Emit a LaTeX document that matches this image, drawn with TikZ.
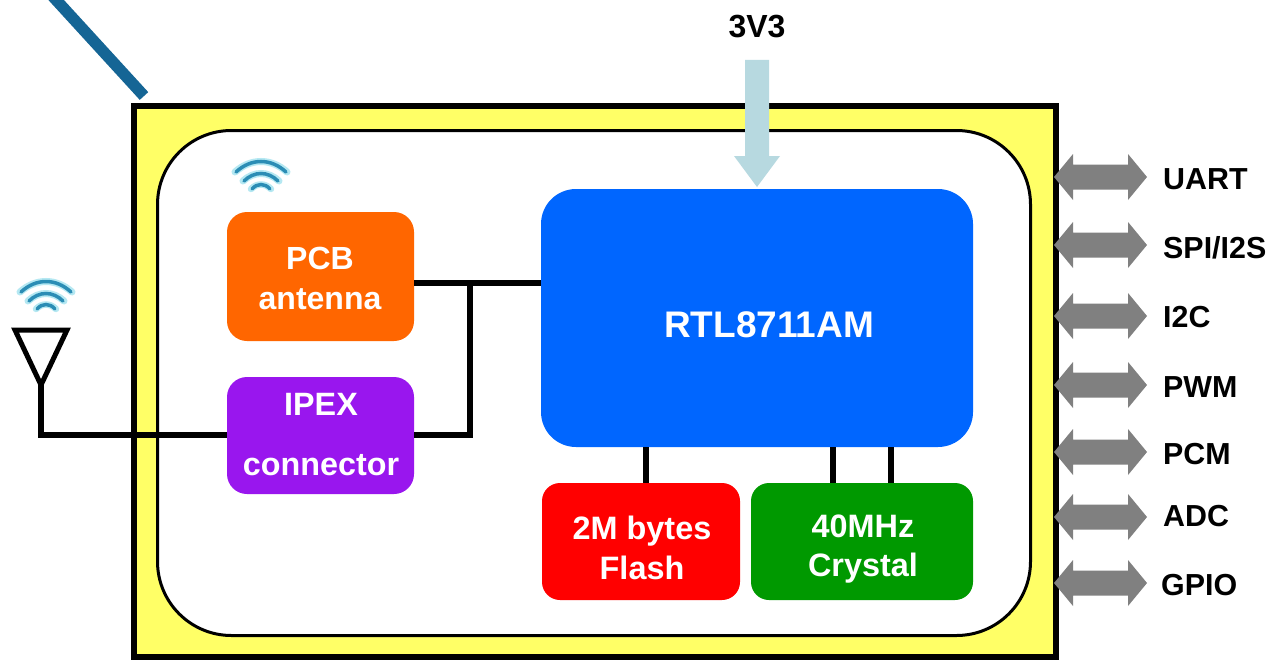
\documentclass[tikz,border=0pt]{standalone}
\usepackage{fontspec}
\setmainfont{Liberation Sans}
\definecolor{frameyellow}{HTML}{FFFF66}
\definecolor{chipblue}{HTML}{0066FF}
\definecolor{pcborange}{HTML}{FF6600}
\definecolor{ipexpurple}{HTML}{9916EE}
\definecolor{flashred}{HTML}{FF0000}
\definecolor{xtalgreen}{HTML}{009900}
\definecolor{busgrey}{HTML}{808080}
\definecolor{powerblue}{HTML}{B7D9E0}
\definecolor{slantblue}{HTML}{156595}
\definecolor{wifidark}{HTML}{2B8DB5}
\definecolor{wifiglow}{HTML}{B5E8F2}
\tikzset{
  block/.style={rounded corners=#1, inner sep=0pt, draw=none},
  block/.default=20pt,
  wlabel/.style={text=white, font=\bfseries\fontsize{32.4}{40}\selectfont, align=center, inner sep=0pt},
  blabel/.style={text=black, font=\bfseries\fontsize{30.4}{36}\selectfont, inner sep=0pt},
  wire/.style={line width=5.5pt, draw=black, line join=miter, line cap=butt},
  pics/wifi/.style={code={
    \draw[wifiglow,line width=7pt,line cap=round] (-26,11) .. controls (-10,-3) and (10,-3) .. (26,11);
    \draw[wifiglow,line width=7pt,line cap=round] (-18,20) .. controls (-7,10) and (7,10) .. (18,20);
    \draw[wifiglow,line width=6.5pt,line cap=round] (-10,28) .. controls (-4,22) and (4,22) .. (10,28);
    \draw[wifidark,line width=3.5pt,line cap=round] (-25,11) .. controls (-10,-3) and (10,-3) .. (25,11);
    \draw[wifidark,line width=3.5pt,line cap=round] (-17,20) .. controls (-7,10) and (7,10) .. (17,20);
    \draw[wifidark,line width=3.5pt,line cap=round] (-9,28) .. controls (-4,22) and (4,22) .. (9,28);
  }},
  pics/busarrow/.style={code={
    \fill[busgrey] (1054,0) -- (1073,-23) -- (1073,-12.5) -- (1128,-12.5) -- (1128,-23) -- (1147,0)
      -- (1128,23) -- (1128,12.5) -- (1073,12.5) -- (1073,23) -- cycle;
  }}
}
\begin{document}
\begin{tikzpicture}[x=1pt,y=-1pt]
\useasboundingbox (0,0) rectangle (1273,661);
\clip (0,0) rectangle (1273,661);
\fill[white] (0,0) rectangle (1273,661);

% frame
\node[draw=black,line width=6pt,fill=frameyellow,minimum width=922pt,minimum height=551pt,inner sep=0pt] (frame) at (595,381.5) {};
\node[draw=black,line width=3pt,fill=white,rounded corners=74pt,minimum width=873pt,minimum height=505pt,inner sep=0pt] (inner) at (594,383) {};

% slanted line
\coordinate (slantend) at (144,96);
\coordinate (slantstart) at (47,-10);
\draw[slantblue,line width=11.5pt] (slantstart) -- (slantend);

% blocks
\node[block=35pt,fill=chipblue,minimum width=432pt,minimum height=258pt] (rtl) at (757,318) {};
\node[block=20pt,fill=pcborange,minimum width=187pt,minimum height=129pt] (pcb) at (320.5,276.5) {};
\node[block=20pt,fill=ipexpurple,minimum width=187pt,minimum height=117pt] (ipex) at (320.5,435.5) {};
\node[block=18pt,fill=flashred,minimum width=198pt,minimum height=117pt] (flash) at (641,541.5) {};
\node[block=18pt,fill=xtalgreen,minimum width=222pt,minimum height=117pt] (xtal) at (862,541.5) {};

% wires
\coordinate (jtop) at (470,283);
\coordinate (jbot) at (470,435);
\coordinate (anttip) at (41,385);
\coordinate (antcorner) at (41,435);
\draw[wire] (pcb.east |- jtop) -- (rtl.west |- jtop);
\draw[wire,line cap=rect] (jtop) -- (jbot);
\draw[wire] (ipex.east |- jbot) -- (jbot);
\draw[wire,line join=miter] (anttip) -- (antcorner) -- (ipex.west |- antcorner);
\draw[line width=5pt,line join=miter] (15,330) -- (67,330) -- (anttip) -- cycle;
\coordinate (w1) at (646,447); \coordinate (w2) at (833,447); \coordinate (w3) at (891,447);
\draw[wire] (w1) -- (flash.north -| w1);
\draw[wire] (w2) -- (xtal.north -| w2);
\draw[wire] (w3) -- (xtal.north -| w3);

% wifi icons
\pic at (261,161) {wifi};
\pic at (46,281) {wifi};

% power arrow
\fill[powerblue] (745,60) -- (769,60) -- (769,156) -- (780,156) -- (757,187) -- (734,156) -- (745,156) -- cycle;
\node[blabel,font=\bfseries\fontsize{32}{36}\selectfont] (v33) at (757,27) {3V3};

% block text
\node[wlabel,font=\bfseries\fontsize{37}{40}\selectfont] (trtl) at (769,325) {RTL8711AM};
\node[wlabel,font=\bfseries\fontsize{32}{40}\selectfont] (tpcb) at (320,278) {PCB\\antenna};
\node[wlabel,font=\bfseries\fontsize{32.3}{60}\selectfont] (tipex) at (321,435) {IPEX\\connector};
\node[wlabel] (tflash) at (642,548) {2M bytes\\Flash};
\node[wlabel,font=\bfseries\fontsize{32.4}{39}\selectfont] (txtal) at (863,549) {40MHz\\Crystal};

% bus arrows and labels
\foreach \yy/\nm/\lx/\ly in {177/UART/1163/179,245/SPI\slash I2S/1163/248,316/I2C/1163/317,385/PWM/1163/387,452/PCM/1163/454,517/ADC/1163/516,583/GPIO/1161/585}{
  \pic at (0,\yy) {busarrow};
  \node[blabel,anchor=west] at (\lx,\ly) {\nm};
}
\end{tikzpicture}
\end{document}
